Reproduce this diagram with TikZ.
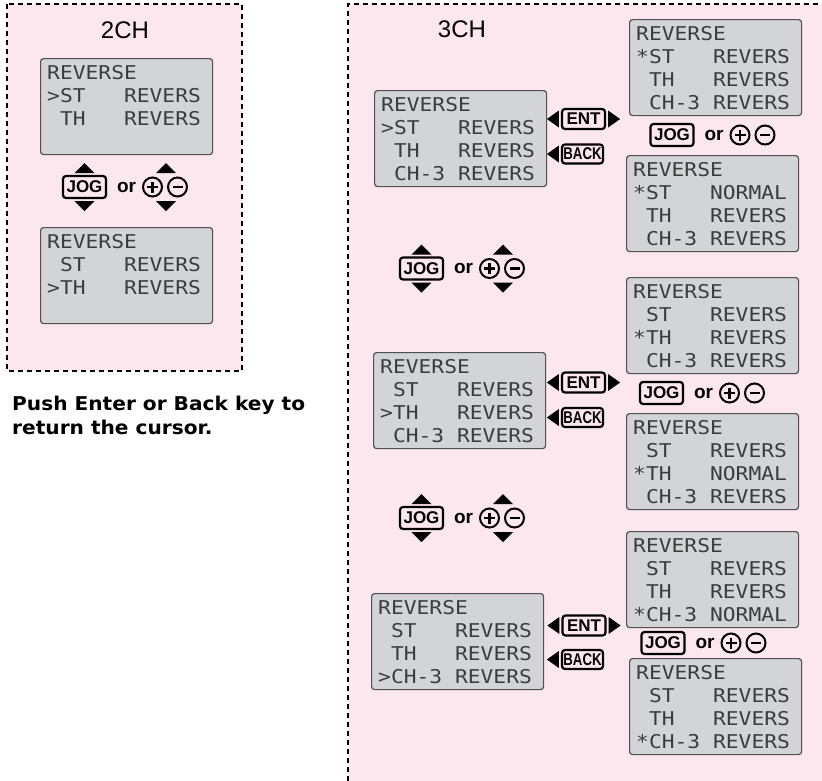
\documentclass[tikz,border=0pt]{standalone}
\usepackage{fontspec}
\usepackage{graphicx}
\setmainfont{Liberation Sans}
\newfontfamily\lcdfont[FakeStretch=1.12]{DejaVu Sans Mono}
\newfontfamily\notefont[FakeStretch=1.06]{DejaVu Sans}
\usetikzlibrary{positioning}

\definecolor{panelpink}{RGB}{253,231,239}
\definecolor{lcdgray}{RGB}{211,212,214}
\definecolor{lcdedge}{RGB}{80,80,80}
\definecolor{lcdink}{RGB}{60,60,60}

\tikzset{
  panelframe/.style={line width=2pt, dash pattern=on 5pt off 4pt},
  lcd/.style={draw=lcdedge, fill=lcdgray, line width=1.2pt, rounded corners=3pt,
    anchor=north west, minimum width=172pt, minimum height=96pt, inner sep=0pt},
  lcdrow/.style={anchor=base west, inner sep=0pt, text=lcdink,
    font=\lcdfont\fontsize{19}{19}\selectfont},
  keybox/.style={draw, line width=2.2pt, rounded corners=3pt, inner sep=0pt,
    font=\bfseries\fontsize{17}{17}\selectfont},
  ortext/.style={font=\bfseries\fontsize{19}{19}\selectfont, inner sep=0pt},
  pmkey/.style={draw, circle, line width=2pt, minimum size=19pt, inner sep=0pt},
  pmsign/.style={line width=2.8pt},
  chtitle/.style={anchor=base, inner sep=0pt, font=\fontsize{24}{24}\selectfont},
}

% LCD screen: name, north west corner, rows
\newcommand\lcdscreen[3]{%
  \node[lcd] (#1) at (#2) {};
  \foreach \row [count=\i] in {#3}
    \node[lcdrow] (#1-r\i) at ([shift={(7,{21+(\i-1)*23.3})}]#1.north west) {\row};
}

% JOG key or +/- keys
\newcommand\jogkeys[2]{%
  \node[keybox, minimum width=43pt, minimum height=22pt] (#1-jog) at (#2) {JOG};
  \node[ortext] (#1-or) at ([xshift=42pt]#1-jog.center) {or};
  \node[pmkey] (#1-plus) at ([xshift=68pt]#1-jog.center) {};
  \node[pmkey] (#1-minus) at ([xshift=93pt]#1-jog.center) {};
  \draw[pmsign] (#1-plus.center) +(-5.5,0) -- +(5.5,0) +(0,-5.5) -- +(0,5.5);
  \draw[pmsign] (#1-minus.center) +(-5,0) -- +(5,0);
}

% up and down marks
\newcommand\jogarrows[1]{%
  \foreach \dx in {0,81.5}{
    \fill ([shift={({\dx-10},-14)}]#1-jog.center) -- ++(20,0) -- ++(-10,-10) -- cycle;
    \fill ([shift={({\dx-10},14)}]#1-jog.center) -- ++(20,0) -- ++(-10,10) -- cycle;
  }
}

% ENT and BACK keys
\newcommand\entback[3]{%
  \node[keybox, minimum width=43pt, minimum height=20pt] (#1-ent) at (#2) {ENT};
  \node[keybox, minimum width=41pt, minimum height=19pt] (#1-back) at (#3) {\scalebox{0.78}[1]{BACK}};
  \fill ([shift={(-2,-8.5)}]#1-ent.west) -- ++(0,17) -- ++(-12,-8.5) -- cycle;
  \fill ([shift={(2,-8.5)}]#1-ent.east) -- ++(0,17) -- ++(12,-8.5) -- cycle;
  \fill ([shift={(-2,-8.5)}]#1-back.west) -- ++(0,17) -- ++(-12,-8.5) -- cycle;
}

\begin{document}
\begin{tikzpicture}[x=1pt, y=-1pt]

\useasboundingbox (0,0) rectangle (822,780);

% Panels
\draw[panelframe, fill=panelpink] (7,4) rectangle (242,371);
\fill[panelpink] (348,4) rectangle (830,790);
\draw[panelframe] (348,790) -- (348,4) -- (830,4);

% 2CH
\node[chtitle] (title2ch) at (125,38) {2CH};
\lcdscreen{two1}{40,58}{REVERSE, >ST~~~REVERS, ~TH~~~REVERS}
\jogkeys{w0}{84.5,187}
\jogarrows{w0}
\lcdscreen{two2}{40,227}{REVERSE, ~ST~~~REVERS, >TH~~~REVERS}

% Note
\node[anchor=north west, inner sep=0pt, align=left,
    font=\notefont\bfseries\fontsize{19}{24}\selectfont] (note) at (12,396)
    {Push Enter or Back key to\\return the cursor.};

% 3CH
\node[chtitle] (title3ch) at (462,37) {3CH};

% ST row
\lcdscreen{st}{374,90}{REVERSE, >ST~~~REVERS, ~TH~~~REVERS, ~CH-3~REVERS}
\entback{st}{583.5,119}{582.5,154}
\lcdscreen{st1}{629,19}{REVERSE, *ST~~~REVERS, ~TH~~~REVERS, ~CH-3~REVERS}
\jogkeys{s1}{672,135}
\lcdscreen{st2}{626,155}{REVERSE, *ST~~~NORMAL, ~TH~~~REVERS, ~CH-3~REVERS}

\jogkeys{w1}{421.5,268.5}
\jogarrows{w1}

% TH row
\lcdscreen{th}{373,352}{REVERSE, ~ST~~~REVERS, >TH~~~REVERS, ~CH-3~REVERS}
\entback{th}{583.5,382.5}{582.5,417.5}
\lcdscreen{th1}{626,277}{REVERSE, ~ST~~~REVERS, *TH~~~REVERS, ~CH-3~REVERS}
\jogkeys{s2}{661.5,393}
\lcdscreen{th2}{626,413}{REVERSE, ~ST~~~REVERS, *TH~~~NORMAL, ~CH-3~REVERS}

\jogkeys{w2}{421.5,518}
\jogarrows{w2}

% CH-3 row
\lcdscreen{ch}{371,593}{REVERSE, ~ST~~~REVERS, ~TH~~~REVERS, >CH-3~REVERS}
\entback{ch}{584,625.5}{582.5,659.5}
\lcdscreen{ch1}{626,531}{REVERSE, ~ST~~~REVERS, ~TH~~~REVERS, *CH-3~NORMAL}
\jogkeys{s3}{663,643}
\lcdscreen{ch2}{629,658}{REVERSE, ~ST~~~REVERS, ~TH~~~REVERS, *CH-3~REVERS}

\end{tikzpicture}
\end{document}
